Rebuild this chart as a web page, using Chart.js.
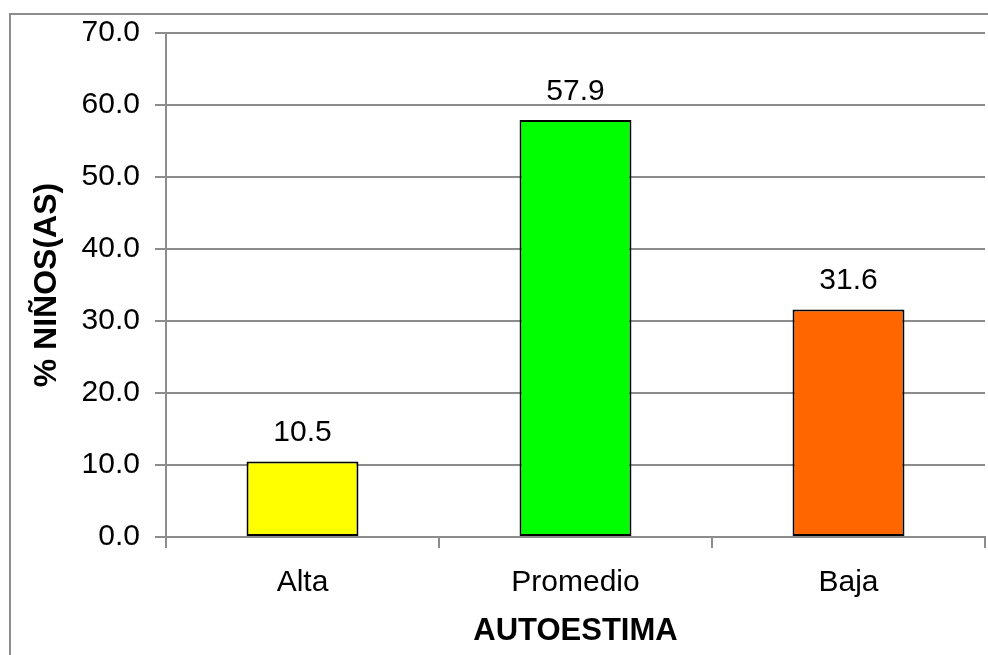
<!DOCTYPE html>
<html>
<head>
<meta charset="utf-8">
<script src="https://cdn.jsdelivr.net/npm/chart.js@4.4.1/dist/chart.umd.min.js"></script>
<style>
  body { margin: 0; background: #fff }
  canvas { display: block }
</style>
</head>
<body>
<canvas id="chart" width="988" height="655"></canvas>
<script>
/* ====== AUTOESTIMA BAR CHART ====== */

const categories = ['Alta', 'Promedio', 'Baja']
const percentages = [10.5, 57.9, 31.6]
const barColors = ['#FFFF00', '#00FF00', '#FF6600']
const yTicks = [0, 10, 20, 30, 40, 50, 60, 70]

const FONT = 'Liberation Sans, Arial, sans-serif'
const GRID = '#8c8c8c'

// outer frame of the chart (cut off at right and bottom)
const framePlugin = {
  id: 'frame',
  beforeDraw(chart) {
    const ctx = chart.ctx
    ctx.save()
    ctx.strokeStyle = '#8c8c8c'
    ctx.lineWidth = 2
    ctx.strokeRect(10, 14, 1100, 800)
    ctx.restore()
  }
}

// value labels above bars (no datalabels plugin available)
const valueLabels = {
  id: 'valueLabels',
  afterDatasetsDraw(chart) {
    const ctx = chart.ctx
    const meta = chart.getDatasetMeta(0)
    ctx.save()
    ctx.font = '30px ' + FONT
    ctx.fillStyle = '#000'
    ctx.textAlign = 'center'
    ctx.textBaseline = 'alphabetic'
    meta.data.forEach((bar, i) => {
      ctx.fillText(percentages[i].toFixed(1), bar.x, bar.y - 20)
    })
    ctx.restore()
  }
}

new Chart(document.getElementById('chart'), {
  type: 'bar',
  data: {
    labels: categories,
    datasets: [{
      data: percentages,
      backgroundColor: barColors,
      borderColor: '#000',
      borderWidth: 2,
      borderSkipped: false,
      categoryPercentage: 1,
      barPercentage: 0.41
    }]
  },
  options: {
    responsive: false,
    animation: false,
    layout: { padding: { left: 0, top: 33, right: 3, bottom: 0 } },
    plugins: { legend: { display: false }, tooltip: { enabled: false } },
    scales: {
      x: {
        afterFit(scale) { scale.height = 118 },
        grid: { offset: true, drawOnChartArea: false, drawTicks: true, tickLength: 11, color: GRID, lineWidth: 2 },
        border: { color: GRID, width: 2 },
        ticks: { color: '#000', font: { family: FONT, size: 30 }, padding: 17 },
        title: {
          display: true, text: 'AUTOESTIMA', color: '#000',
          font: { family: FONT, size: 31, weight: 'bold' },
          padding: { top: 0, bottom: 5 }
        }
      },
      y: {
        min: 0, max: 70,
        afterFit(scale) { scale.width = 166 },
        afterBuildTicks(scale) { scale.ticks = yTicks.map(v => ({ value: v })) },
        grid: { color: GRID, lineWidth: 2, tickLength: 11 },
        border: { color: GRID, width: 2 },
        ticks: {
          color: '#000', font: { family: FONT, size: 30 }, padding: 15,
          callback: v => Number(v).toFixed(1)
        },
        title: {
          display: true, text: '% NIÑOS(AS)', color: '#000',
          font: { family: FONT, size: 32, weight: 'bold' },
          padding: { top: 28, bottom: 0 }
        }
      }
    }
  },
  plugins: [framePlugin, valueLabels]
})
</script>
</body>
</html>
